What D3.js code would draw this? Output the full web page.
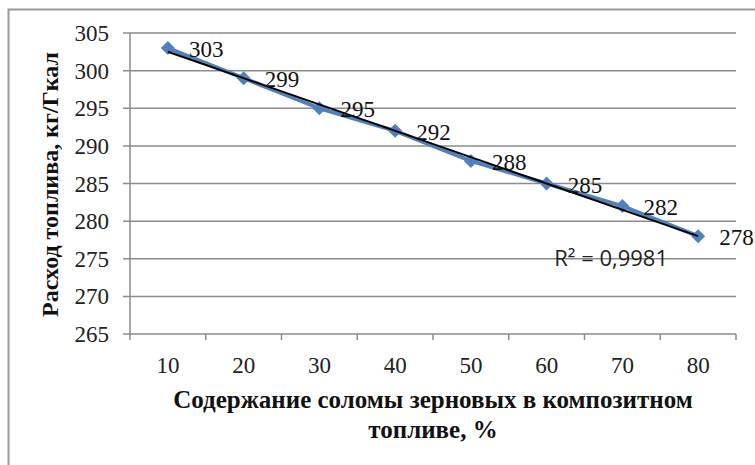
<!DOCTYPE html>
<html><head><meta charset="utf-8">
<script src="https://cdn.jsdelivr.net/npm/d3@7"></script>
<style>body{margin:0;background:#fff}svg{display:block}</style>
</head><body>
<script>
const categories = ["10","20","30","40","50","60","70","80"];
const values = [303, 299, 295, 292, 288, 285, 282, 278];
const yTicks = [265, 270, 275, 280, 285, 290, 295, 300, 305];
const yTitle = "Расход топлива, кг/Гкал";
const xTitleLines = ["Содержание соломы зерновых в композитном", "топливе, %"];

const W = 755, H = 465;
const svg = d3.select("body").append("svg").attr("width", W).attr("height", H);
const serif = "'Liberation Serif','Times New Roman',serif";

svg.append("rect").attr("x", 8.5).attr("y", 9.5).attr("width", 800).attr("height", 500)
  .attr("fill", "#fff").attr("stroke", "#9a9a9a").attr("stroke-width", 2);

const L = 130, R = 736, T = 33, B = 334;
const x = d3.scaleBand().domain(categories).range([L, R]).padding(0);
const y = d3.scaleLinear().domain([265, 305]).range([B, T]);
const cx = c => x(c) + x.bandwidth() / 2;

// gridlines
svg.append("g").selectAll("line").data(yTicks).join("line")
  .attr("x1", L - 7).attr("x2", R).attr("y1", d => y(d)).attr("y2", d => y(d))
  .attr("stroke", "#8c8c8c").attr("stroke-width", 1.5);

// y axis line
svg.append("line").attr("x1", L).attr("x2", L).attr("y1", T).attr("y2", B)
  .attr("stroke", "#8c8c8c").attr("stroke-width", 1.5);

// x ticks at category boundaries
const bounds = categories.map(c => x(c)).concat([R]);
svg.append("g").selectAll("line").data(bounds).join("line")
  .attr("x1", d => d).attr("x2", d => d).attr("y1", B).attr("y2", B + 6)
  .attr("stroke", "#8c8c8c").attr("stroke-width", 1.5);

// y tick labels
svg.append("g").selectAll("text").data(yTicks).join("text")
  .attr("x", L - 21).attr("y", d => y(d)).attr("dy", "0.35em")
  .attr("text-anchor", "end").attr("font-family", serif).attr("font-size", 23)
  .attr("fill", "#222").text(d => d);

// x tick labels
svg.append("g").selectAll("text").data(categories).join("text")
  .attr("x", d => cx(d)).attr("y", B + 31).attr("dy", "0.35em")
  .attr("text-anchor", "middle").attr("font-family", serif).attr("font-size", 23)
  .attr("fill", "#222").text(d => d);

// series line
const pts = categories.map((c, i) => [cx(c), y(values[i])]);
svg.append("path").attr("d", d3.line()(pts)).attr("fill", "none")
  .attr("stroke", "#4f81bd").attr("stroke-width", 4).attr("stroke-linejoin", "round");

// markers
svg.append("g").selectAll("path").data(pts).join("path")
  .attr("transform", d => `translate(${d[0]},${d[1]})`)
  .attr("d", "M0,-7L7,0L0,7L-7,0Z").attr("fill", "#4f81bd");

// linear trendline (least squares on category index)
const xi = values.map((v, i) => i + 1);
const n = values.length;
const mx = d3.mean(xi), my = d3.mean(values);
const sxy = d3.sum(xi.map((v, i) => (v - mx) * (values[i] - my)));
const sxx = d3.sum(xi.map(v => (v - mx) ** 2));
const slope = sxy / sxx, icpt = my - slope * mx;
const fitAt = i => icpt + slope * (i + 1);
svg.append("line")
  .attr("x1", cx(categories[0])).attr("y1", y(fitAt(0)))
  .attr("x2", cx(categories[n - 1])).attr("y2", y(fitAt(n - 1)))
  .attr("stroke", "#000").attr("stroke-width", 2);

// data labels
svg.append("g").selectAll("text").data(values).join("text")
  .attr("x", (d, i) => cx(categories[i]) + 21).attr("y", d => y(d) + 1).attr("dy", "0.35em")
  .attr("font-family", serif).attr("font-size", 23).attr("fill", "#111").text(d => d);

// R^2 label
svg.append("text").attr("x", x("60") + x.bandwidth() * 0.6).attr("y", y(274.0))
  .attr("font-family", "'Open Sans','Noto Sans',sans-serif").attr("font-size", 22).attr("fill", "#222")
  .text("R² = 0,9981");

// y title
svg.append("text").attr("transform", `translate(58,${(T + B) / 2 + 1}) rotate(-90)`)
  .attr("text-anchor", "middle").attr("font-family", serif).attr("font-weight", "bold")
  .attr("font-size", 24).attr("fill", "#111").text(yTitle);

// x title
svg.append("g").selectAll("text").data(xTitleLines).join("text")
  .attr("x", (L + R) / 2).attr("y", (d, i) => 408 + i * 30)
  .attr("text-anchor", "middle").attr("font-family", serif).attr("font-weight", "bold")
  .attr("font-size", 25).attr("fill", "#111").text(d => d);
</script>
</body></html>
